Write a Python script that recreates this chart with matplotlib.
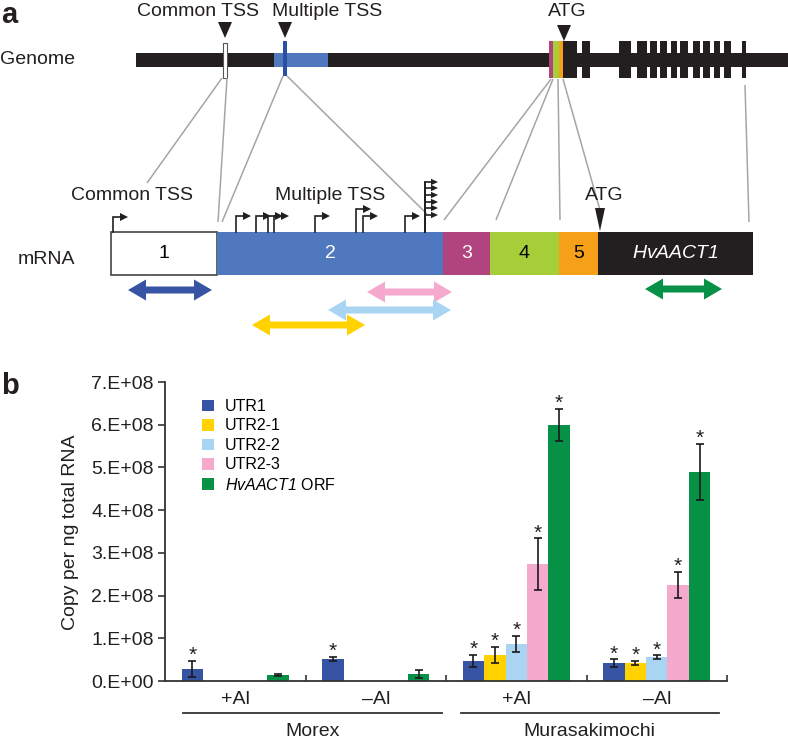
import matplotlib
matplotlib.use("Agg")
import matplotlib.pyplot as plt
from matplotlib.patches import Polygon, Rectangle, Patch
import numpy as np

plt.rcParams['font.family'] = ['Liberation Sans', 'DejaVu Sans']
plt.rcParams['mathtext.fontset'] = 'custom'
plt.rcParams['mathtext.it'] = 'Liberation Sans:italic'
plt.rcParams['mathtext.rm'] = 'Liberation Sans:italic'

# ---------------- data (panel b) ----------------
series = ["UTR1", "UTR2-1", "UTR2-2", "UTR2-3", r"$\mathrm{HvAACT1}$ ORF"]
colors = ["#3753A4", "#FFD200", "#A9D5F2", "#F4A9CD", "#079146"]
conditions = ["+Al", "\u2013Al", "+Al", "\u2013Al"]
cultivars = ["Morex", "Murasakimochi"]
yticks = [0, 1e8, 2e8, 3e8, 4e8, 5e8, 6e8, 7e8]
yticklabels = ["0.E+00", "1.E+08", "2.E+08", "3.E+08", "4.E+08", "5.E+08", "6.E+08", "7.E+08"]

# values per condition group (Morex +Al, Morex -Al, Murasakimochi +Al, Murasakimochi -Al)
utr1 = [2.8e7, 5.1e7, 4.7e7, 4.2e7]
utr2_1 = [np.nan, np.nan, 6.1e7, 4.2e7]
utr2_2 = [np.nan, np.nan, 8.7e7, 5.6e7]
utr2_3 = [np.nan, np.nan, 2.74e8, 2.25e8]
orf = [1.4e7, 1.6e7, 6.0e8, 4.9e8]
utr1_err = [1.9e7, 0.5e7, 1.4e7, 0.9e7]
utr2_1_err = [np.nan, np.nan, 1.9e7, 0.5e7]
utr2_2_err = [np.nan, np.nan, 1.9e7, 0.4e7]
utr2_3_err = [np.nan, np.nan, 6.0e7, 3.0e7]
orf_err = [0.2e7, 1.0e7, 3.7e7, 6.6e7]
utr1_sig = [True, True, True, True]
utr2_1_sig = [False, False, True, True]
utr2_2_sig = [False, False, True, True]
utr2_3_sig = [False, False, True, True]
orf_sig = [False, False, True, True]

values = [utr1, utr2_1, utr2_2, utr2_3, orf]
errors = [utr1_err, utr2_1_err, utr2_2_err, utr2_3_err, orf_err]
sigs = [utr1_sig, utr2_1_sig, utr2_2_sig, utr2_3_sig, orf_sig]

# ---------------- schematic (panel a), pixel coordinates ----------------
genome_exons = [(563, 577), (582, 590), (619, 631), (637, 647), (650, 657), (660, 667),
                (671, 677), (680, 688), (693, 700), (703, 710), (714, 720), (724, 731), (742, 746)]
genome_utr_colors = [(549, 553, "#B1447E"), (553, 559, "#A6CE39"), (559, 563, "#F6A01A")]
connectors = [((222, 78), (147, 183)), ((227, 78), (218, 222)), ((283, 76), (222, 222)),
              ((287, 76), (427, 214)), ((551, 79), (444, 220)), ((553, 79), (496, 220)),
              ((558, 79), (560, 220)), ((563, 79), (600, 210)), ((745, 85), (749, 222))]
mrna_boxes = [(111, 217, "white", "1", "black"), (217, 443, "#5078BF", "2", "white"),
              (443, 490, "#B1447E", "3", "white"), (490, 559, "#A6CE39", "4", "black"),
              (559, 598, "#F6A01A", "5", "black"), (598, 753, "#231F20", r"$\mathrm{HvAACT1}$", "white")]
tss_x = [113, 236, 256, 268, 274, 315, 356, 363, 405]
tss_top = [217, 216, 216, 216, 216, 216, 209, 216, 216]
stack_x = 425
stack_levels = [182, 188, 195, 202, 208, 215]
amplicons = [(128, 212, 290, "#3753A4"), (367, 452, 292, "#F4A9CD"), (328, 451, 310, "#A9D5F2"),
             (252, 365, 325, "#FFD200"), (645, 722, 289, "#079146")]

W, H = 788, 743
fig = plt.figure(figsize=(W / 100, H / 100), dpi=100)
ax0 = fig.add_axes([0, 0, 1, 1], zorder=0)
ax0.set_xlim(0, W)
ax0.set_ylim(H, 0)
ax0.axis("off")

FS = 14
black = "#231F20"

# panel labels
ax0.text(1, 1, "a", fontsize=21, fontweight="bold", va="top", ha="left", color=black)
ax0.text(1, 372, "b", fontsize=21, fontweight="bold", va="top", ha="left", color=black)

# genome line
ax0.add_patch(Rectangle((136, 53), W - 136, 14, color=black, lw=0))
ax0.add_patch(Rectangle((274, 53), 54, 14, color="#5078BF", lw=0))
ax0.add_patch(Rectangle((283, 41), 4, 35, color="#2B4FA3", lw=0))
ax0.add_patch(Rectangle((223, 43), 4, 35, facecolor="white", edgecolor="#555555", lw=0.8))
for x0, x1 in genome_exons:
    ax0.add_patch(Rectangle((x0, 41), x1 - x0, 37, color=black, lw=0))
for x0, x1, c in genome_utr_colors:
    ax0.add_patch(Rectangle((x0, 41), x1 - x0, 37, color=c, lw=0))
ax0.text(0, 60, "Genome", fontsize=FS, va="center", ha="left", color=black)
for txt, xc in [("Common TSS", 198), ("Multiple TSS", 327), ("ATG", 567)]:
    ax0.text(xc, 12, txt, fontsize=FS, va="center", ha="center", color=black)
for xc, top, tip in [(225, 22, 38), (285, 22, 38), (564, 25, 41)]:
    ax0.add_patch(Polygon([(xc - 7, top), (xc + 7, top), (xc, tip)], closed=True, color=black, lw=0))

# connectors
for (xa, ya), (xb, yb) in connectors:
    ax0.plot([xa, xb], [ya, yb], color="#A5A5A5", lw=1.1, solid_capstyle="butt")

# mRNA
for x0, x1, c, lab, tc in mrna_boxes:
    if c == "white":
        ax0.add_patch(Rectangle((x0, 232), x1 - x0, 43, facecolor="white", edgecolor="#444444", lw=1.2, zorder=2))
    else:
        ax0.add_patch(Rectangle((x0, 232), x1 - x0, 43, color=c, lw=0, zorder=2))
    ax0.text((x0 + x1) / 2, 254, lab, fontsize=FS, color=tc, ha="center", va="center", zorder=3)
ax0.text(18, 260, "mRNA", fontsize=FS, va="center", ha="left", color=black)
ax0.text(132, 196, "Common TSS", fontsize=FS, va="center", ha="center", color=black)
ax0.text(330, 196, "Multiple TSS", fontsize=FS, va="center", ha="center", color=black)
ax0.text(604, 196, "ATG", fontsize=FS, va="center", ha="center", color=black)
ax0.add_patch(Polygon([(595, 208), (605, 208), (600, 231)], closed=True, color=black, lw=0, zorder=3))

def bent_arrow(x, top, hl=7, al=8, ah=4, lw=1.2):
    ax0.plot([x, x, x + hl], [232, top, top], color=black, lw=lw, solid_joinstyle="miter")
    ax0.add_patch(Polygon([(x + hl, top - ah), (x + hl, top + ah), (x + hl + al, top)],
                          closed=True, color=black, lw=0))

for x, t in zip(tss_x, tss_top):
    bent_arrow(x, t)
ax0.plot([stack_x, stack_x], [232, stack_levels[0]], color=black, lw=1.2)
for lv in stack_levels:
    bent_arrow(stack_x, lv, hl=6, al=7, ah=3.2)

def dbl_arrow(x0, x1, y, color, sh=3.5, hh=10.5, hl=18):
    pts = [(x0, y), (x0 + hl, y - hh), (x0 + hl, y - sh), (x1 - hl, y - sh), (x1 - hl, y - hh),
           (x1, y), (x1 - hl, y + hh), (x1 - hl, y + sh), (x0 + hl, y + sh), (x0 + hl, y + hh)]
    ax0.add_patch(Polygon(pts, closed=True, color=color, lw=0))

for x0, x1, y, c in amplicons:
    dbl_arrow(x0, x1, y, c)

# ---------------- bar chart ----------------
left, right, bottom, top = 165, 727, 681, 382
ax = fig.add_axes([left / W, 1 - bottom / H, (right - left) / W, (bottom - top) / H], zorder=1)
ax.set_facecolor("none")
ngroups = 4
w = 21.4 / 140.5
for s in range(5):
    xs = np.arange(ngroups) + 0.5 + (s - 2) * w
    v = np.array(values[s], dtype=float)
    e = np.array(errors[s], dtype=float)
    m = ~np.isnan(v)
    ax.bar(xs[m], v[m], width=w, color=colors[s], lw=0, zorder=2)
    ax.errorbar(xs[m], v[m], yerr=e[m], fmt="none", ecolor="#1a1a1a", elinewidth=1.2,
                capsize=3, capthick=1.2, zorder=3)
    for xi, vi, ei, sg in zip(xs, v, e, sigs[s]):
        if sg and not np.isnan(vi):
            ax.annotate("*", (xi, vi + ei), xytext=(0, -3), textcoords="offset points",
                        ha="center", va="bottom", fontsize=15, color=black)

ax.set_xlim(0, ngroups)
ax.set_ylim(0, 7e8)
ax.set_yticks(yticks)
ax.set_yticklabels(yticklabels, fontsize=FS, color=black)
ax.set_xticks([1, 2, 3, 4])
ax.set_xticklabels([])
ax.tick_params(axis="x", direction="in", length=4, width=1.2, color="#333333")
ax.tick_params(axis="y", direction="out", length=5, width=1.2, color="#333333", pad=3)
for sp in ["top", "right"]:
    ax.spines[sp].set_visible(False)
for sp in ["left", "bottom"]:
    ax.spines[sp].set_linewidth(1.3)
    ax.spines[sp].set_color("#333333")
ax0.text(71, 532, "Copy per ng total RNA", fontsize=FS, color=black, rotation=90,
         ha="center", va="center")

tr = ax.get_xaxis_transform()
for g, lab in enumerate(conditions):
    ax.text(g + 0.5, (bottom - 700) / (bottom - top), lab, transform=tr, ha="center", va="center",
            fontsize=FS, color=black, clip_on=False)
for (xa, xb), name in zip([(0.128, 1.97), (2.107, 3.94)], cultivars):
    yl = (bottom - 713) / (bottom - top)
    ax.plot([xa, xb], [yl, yl], transform=tr, color="#333333", lw=1.3, clip_on=False)
    ax.text((xa + xb) / 2, (bottom - 732) / (bottom - top), name, transform=tr, ha="center",
            va="center", fontsize=FS, color=black, clip_on=False)

handles = [Patch(facecolor=c, edgecolor="none") for c in colors]
ax.legend(handles, series, loc="upper left", bbox_to_anchor=(202 / W, 1 - 399 / H),
          bbox_transform=fig.transFigure, frameon=False, fontsize=11.5, handlelength=0.75,
          handleheight=0.75, handletextpad=0.7, labelspacing=0.28, borderpad=0, borderaxespad=0)

fig.savefig("out.png", dpi=100)
